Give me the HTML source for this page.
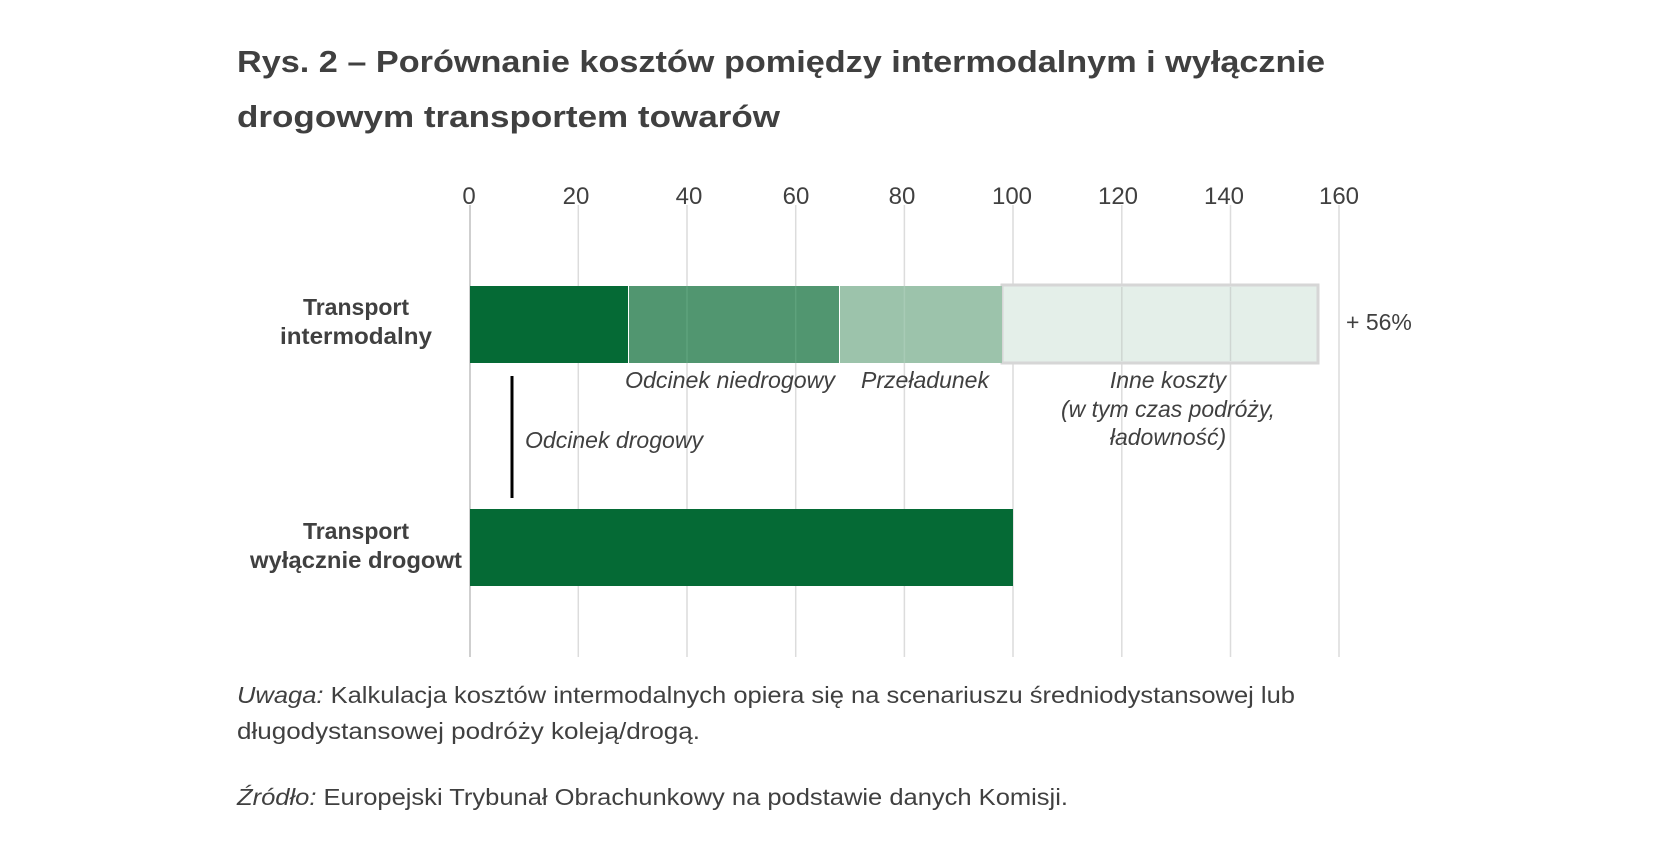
<!DOCTYPE html>
<html><head><meta charset="utf-8"><style>
body{margin:0;background:#fff}
svg{display:block}
text{font-family:"Liberation Sans",sans-serif;fill:#404040}
</style></head><body>
<svg width="1663" height="861" viewBox="0 0 1663 861" xmlns="http://www.w3.org/2000/svg">
<text x="237" y="72" font-size="31" font-weight="bold" fill="#333" textLength="1088" lengthAdjust="spacingAndGlyphs">Rys. 2 – Porównanie kosztów pomiędzy intermodalnym i wyłącznie</text>
<text x="237" y="127" font-size="31" font-weight="bold" fill="#333" textLength="543" lengthAdjust="spacingAndGlyphs">drogowym transportem towarów</text>
<g stroke="#dcdcdc" stroke-width="1.5">
<line x1="578.3" y1="205" x2="578.3" y2="657"/><line x1="687" y1="205" x2="687" y2="657"/><line x1="795.7" y1="205" x2="795.7" y2="657"/><line x1="904.4" y1="205" x2="904.4" y2="657"/><line x1="1013" y1="205" x2="1013" y2="657"/><line x1="1121.8" y1="205" x2="1121.8" y2="657"/><line x1="1230.5" y1="205" x2="1230.5" y2="657"/><line x1="1339" y1="205" x2="1339" y2="657"/>
</g>
<line x1="470" y1="205" x2="470" y2="657" stroke="#cfcfcf" stroke-width="2"/>
<g font-size="24" text-anchor="middle">
<text x="469" y="204">0</text><text x="576" y="204">20</text><text x="689" y="204">40</text><text x="796" y="204">60</text><text x="902" y="204">80</text><text x="1012" y="204">100</text><text x="1118" y="204">120</text><text x="1224" y="204">140</text><text x="1339" y="204">160</text>
</g>
<rect x="1002" y="285" width="316" height="78" fill="#e4efe9" stroke="#d6d6d6" stroke-width="3"/>
<line x1="1121.8" y1="287" x2="1121.8" y2="361" stroke="#cfd6d2" stroke-width="1.5"/>
<line x1="1230.5" y1="287" x2="1230.5" y2="361" stroke="#cfd6d2" stroke-width="1.5"/>
<rect x="470" y="286" width="158" height="77" fill="#056a35"/>
<rect x="629" y="286" width="210" height="77" fill="#519670"/>
<line x1="687" y1="286" x2="687" y2="363" stroke="#5ea27c" stroke-width="1.5"/>
<line x1="795.7" y1="286" x2="795.7" y2="363" stroke="#5ea27c" stroke-width="1.5"/>
<rect x="840" y="286" width="162" height="77" fill="#9cc3ab"/>
<line x1="904.4" y1="286" x2="904.4" y2="363" stroke="#a8cbb6" stroke-width="1.5"/>
<rect x="470" y="509" width="543" height="77" fill="#056a35"/>
<line x1="512" y1="376" x2="512" y2="498" stroke="#000" stroke-width="3"/>
<text x="1346" y="330" font-size="23">+ 56%</text>
<g font-size="23" font-style="italic">
<text x="625" y="388" textLength="210" lengthAdjust="spacingAndGlyphs">Odcinek niedrogowy</text>
<text x="861" y="388" textLength="128" lengthAdjust="spacingAndGlyphs">Przeładunek</text>
<text x="525" y="448" textLength="178" lengthAdjust="spacingAndGlyphs">Odcinek drogowy</text>
<g text-anchor="middle"><text x="1168" y="388">Inne koszty</text><text x="1168" y="417" textLength="214" lengthAdjust="spacingAndGlyphs">(w tym czas podróży,</text><text x="1168" y="445">ładowność)</text></g>
</g>
<g font-size="23" font-weight="bold" text-anchor="middle">
<text x="356" y="315">Transport</text><text x="356" y="344" textLength="152" lengthAdjust="spacingAndGlyphs">intermodalny</text>
<text x="356" y="539">Transport</text><text x="356" y="568" textLength="212" lengthAdjust="spacingAndGlyphs">wyłącznie drogowt</text>
</g>
<g font-size="23" fill="#222">
<text x="237" y="703" textLength="1058" lengthAdjust="spacingAndGlyphs" fill="#222"><tspan font-style="italic">Uwaga:</tspan> Kalkulacja kosztów intermodalnych opiera się na scenariuszu średniodystansowej lub</text>
<text x="237" y="739" textLength="463" lengthAdjust="spacingAndGlyphs" fill="#222">długodystansowej podróży koleją/drogą.</text>
<text x="237" y="805" textLength="831" lengthAdjust="spacingAndGlyphs" fill="#222"><tspan font-style="italic">Źródło:</tspan> Europejski Trybunał Obrachunkowy na podstawie danych Komisji.</text>
</g>
</svg>
</body></html>
